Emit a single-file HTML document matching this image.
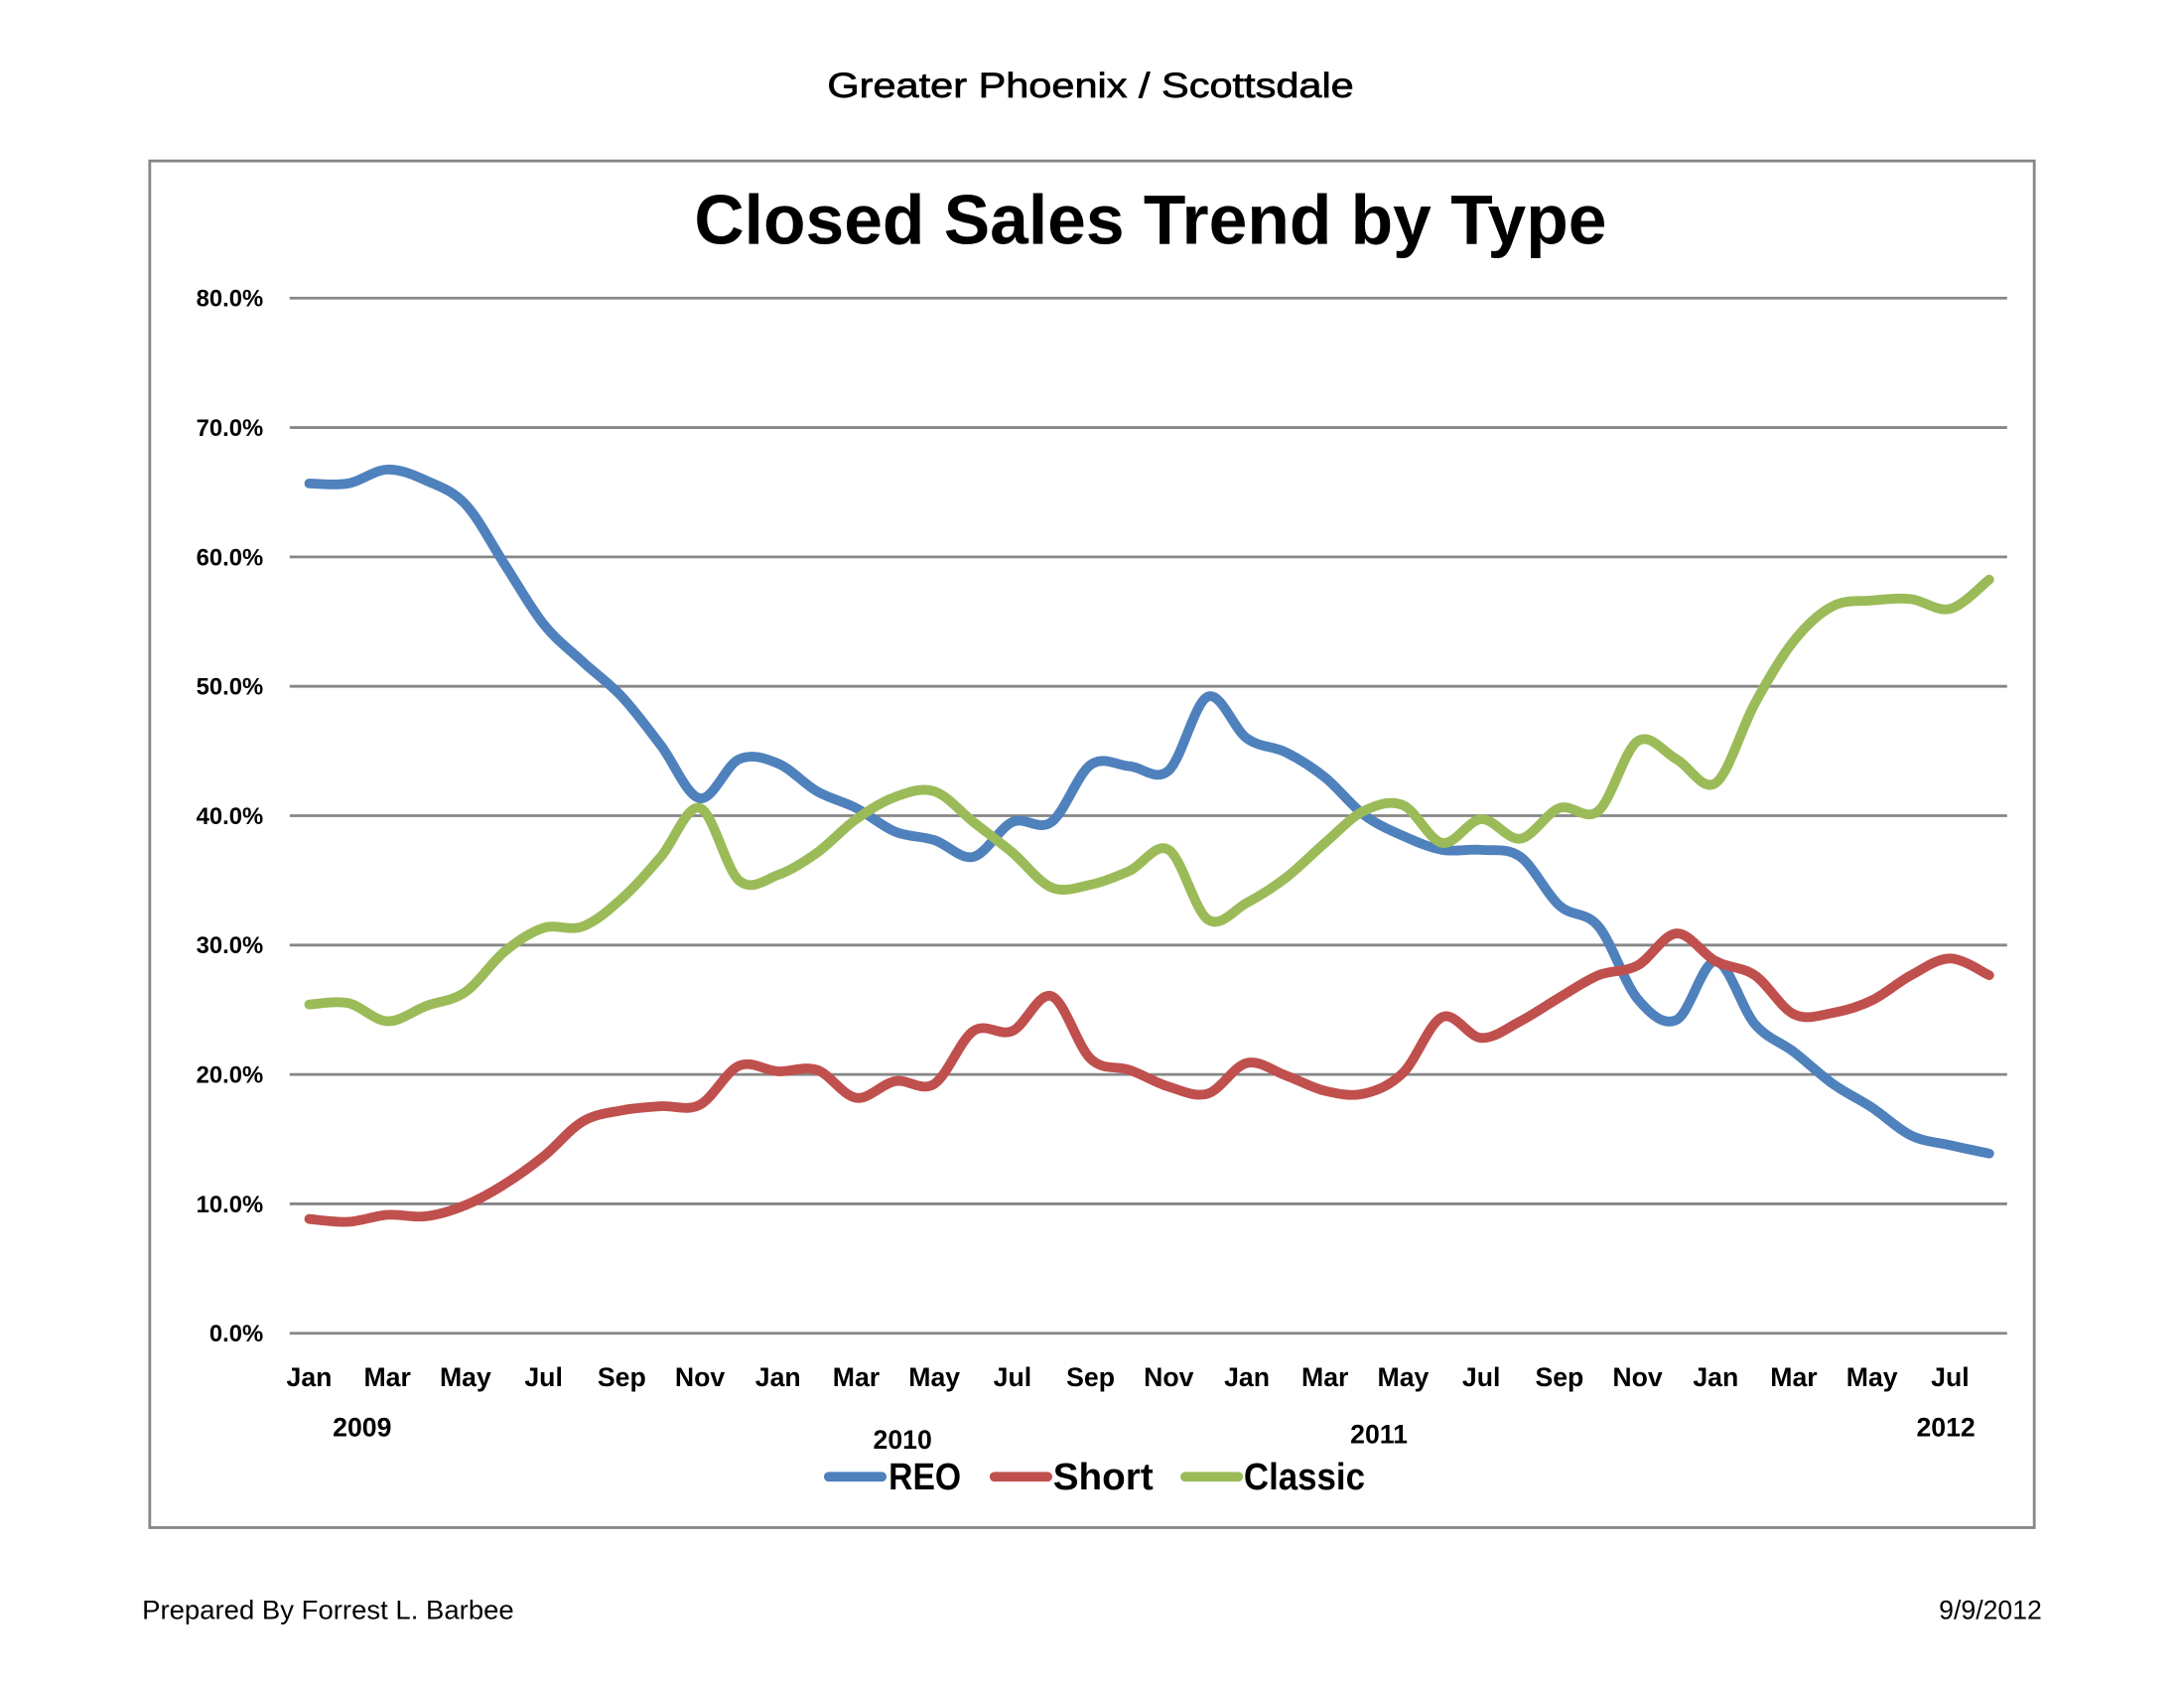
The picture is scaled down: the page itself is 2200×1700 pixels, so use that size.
<!DOCTYPE html>
<html><head><meta charset="utf-8"><style>
html,body{margin:0;padding:0;background:#fff;}
svg{display:block;}
text{font-family:"Liberation Sans",sans-serif;}
</style></head><body>
<svg id="s" width="2200" height="1700" viewBox="0 0 1568 1211.6" xmlns="http://www.w3.org/2000/svg">
<rect width="1568" height="1212" fill="#fff"/>
<text x="783" y="70" font-size="25" text-anchor="middle" stroke="#000" stroke-width="0.5" textLength="378" lengthAdjust="spacingAndGlyphs">Greater Phoenix / Scottsdale</text>
<rect x="107.5" y="115.5" width="1353" height="981" fill="none" stroke="#868686" stroke-width="2"/>
<text x="826" y="175" font-size="50" font-weight="bold" text-anchor="middle" textLength="655" lengthAdjust="spacingAndGlyphs">Closed Sales Trend by Type</text>
<g id="grid" stroke="#868686" stroke-width="2"></g>
<g id="yl" font-size="17" font-weight="bold" text-anchor="end"></g>
<g id="xl" font-size="19" font-weight="bold" text-anchor="middle"></g>
<g font-size="19" font-weight="bold" text-anchor="middle">
<text x="260" y="1031">2009</text><text x="648" y="1040">2010</text><text x="990" y="1036">2011</text><text x="1397" y="1031">2012</text>
</g>
<g id="lines" fill="none" stroke-width="7" stroke-linecap="round" stroke-linejoin="round"></g>
<g stroke-width="7" stroke-linecap="round">
<line x1="595" y1="1060" x2="633" y2="1060" stroke="#4F81BD"/>
<line x1="714" y1="1060" x2="752" y2="1060" stroke="#C0504D"/>
<line x1="851" y1="1060" x2="889" y2="1060" stroke="#9BBB59"/>
</g>
<g font-size="27" font-weight="bold">
<text x="638" y="1069" textLength="52" lengthAdjust="spacingAndGlyphs">REO</text><text x="756" y="1069" textLength="72" lengthAdjust="spacingAndGlyphs">Short</text><text x="893" y="1069" textLength="87" lengthAdjust="spacingAndGlyphs">Classic</text>
</g>
<text x="102" y="1162" font-size="19" textLength="267" lengthAdjust="spacingAndGlyphs">Prepared By Forrest L. Barbee</text>
<text x="1466" y="1162" font-size="19" text-anchor="end">9/9/2012</text>
</svg>
<script>
var NS="http://www.w3.org/2000/svg";
function el(t,a,p,txt){var e=document.createElementNS(NS,t);for(var k in a)e.setAttribute(k,a[k]);if(txt)e.textContent=txt;document.getElementById(p).appendChild(e);}
for(var i=0;i<=8;i++){var y=957-i*92.875;el("line",{x1:208,x2:1441,y1:y,y2:y},"grid");el("text",{x:189,y:y+6},"yl",(i*10)+".0%");}
var m=["Jan","Mar","May","Jul","Sep","Nov"];
for(var i=0;i<22;i++){el("text",{x:222+i*56.1,y:995},"xl",m[i%6]);}
var reo=[347,347,337,345,362,405,448,475,500,535,573,545,548,568,580,597,603,615,590,590,549,550,553,500,530,540,558,585,600,610,610,615,650,665,717,732,690,735,755,778,795,815,822,828];
var sh=[875,877,872,873,865,850,830,805,797,794,793,765,769,768,788,776,778,740,740,715,760,768,780,785,763,772,783,785,770,730,745,733,716,700,693,670,690,700,728,727,718,700,688,700];
var cl=[721,720,733,722,712,683,666,665,645,615,580,632,628,612,588,572,568,590,612,637,635,625,610,660,648,630,605,582,578,605,588,602,580,582,532,545,562,505,460,435,431,430,437,416];
function path(d){var p=d.map(function(y,i){return [222+i*28.05,y];});var s="M"+p[0][0]+","+p[0][1];
for(var i=0;i<p.length-1;i++){var p0=p[Math.max(i-1,0)],p1=p[i],p2=p[i+1],p3=p[Math.min(i+2,p.length-1)];
s+=" C"+(p1[0]+(p2[0]-p0[0])/6)+","+(p1[1]+(p2[1]-p0[1])/6)+" "+(p2[0]-(p3[0]-p1[0])/6)+","+(p2[1]-(p3[1]-p1[1])/6)+" "+p2[0]+","+p2[1];}return s;}
el("path",{d:path(reo),stroke:"#4F81BD"},"lines");
el("path",{d:path(sh),stroke:"#C0504D"},"lines");
el("path",{d:path(cl),stroke:"#9BBB59"},"lines");
</script>
</body></html>
